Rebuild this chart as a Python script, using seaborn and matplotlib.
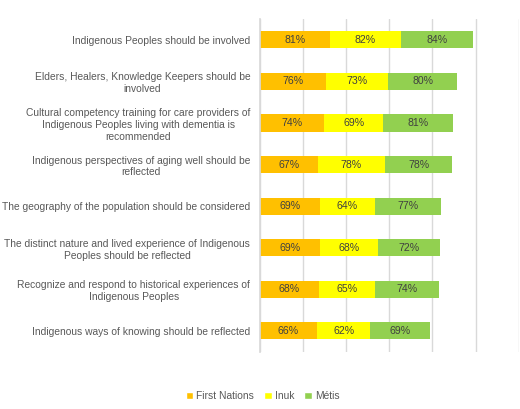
import pandas as pd
import numpy as np
import matplotlib.pyplot as plt
import seaborn as sns
from matplotlib.patches import Patch

sns.set_theme(style='white')
plt.rcParams['font.family'] = ['Liberation Sans', 'DejaVu Sans']

categories = [
    'Indigenous Peoples should be involved',
    'Elders, Healers, Knowledge Keepers should be\ninvolved',
    'Cultural competency training for care providers of\nIndigenous Peoples living with dementia is\nrecommended',
    'Indigenous perspectives of aging well should be\nreflected',
    'The geography of the population should be considered',
    'The distinct nature and lived experience of Indigenous\nPeoples should be reflected',
    'Recognize and respond to historical experiences of\nIndigenous Peoples',
    'Indigenous ways of knowing should be reflected',
]
first_nations = [81, 76, 74, 67, 69, 69, 68, 66]
inuk = [82, 73, 69, 78, 64, 68, 65, 62]
metis = [84, 80, 81, 78, 77, 72, 74, 69]

series = ['First Nations', 'Inuk', 'Métis']
colors = ['#FFC000', '#FFFF00', '#92D050']

df = pd.DataFrame({'category': categories, 'First Nations': first_nations,
                   'Inuk': inuk, 'Métis': metis})
df['cum1'] = df['First Nations']
df['cum2'] = df['cum1'] + df['Inuk']
df['cum3'] = df['cum2'] + df['Métis']

fig = plt.figure(figsize=(5.2, 4.09), dpi=100)
ax = fig.add_axes([0.5, 0.14, 0.4975, 0.8135])

# stacked bars: draw cumulative totals, largest first
for col, c in zip(['cum3', 'cum2', 'cum1'], colors[::-1]):
    sns.barplot(data=df, x=col, y='category', order=categories, orient='h',
                color=c, width=0.41, saturation=1, ax=ax, linewidth=0)

# percentage labels in each segment
starts = [np.zeros(len(df)), df['cum1'].values, df['cum2'].values]
for s, st in zip(series, starts):
    for i, (v, l) in enumerate(zip(df[s].values, st)):
        ax.text(l + v / 2, i, f'{v}%', ha='center', va='center',
                fontsize=7.6, color='#404040')

ax.set_xlim(0, 300)
ax.set_ylim(len(categories) - 0.5, -0.5)
ax.set_xticks(np.arange(0, 301, 50))
ax.set_xticklabels([])
ax.xaxis.grid(True, color='#D9D9D9', linewidth=1)
ax.set_axisbelow(True)
ax.tick_params(axis='x', length=0)
ax.set_xlabel('')
ax.set_ylabel('')

ax.set_yticks(np.arange(-0.5, len(categories), 1), minor=True)
ax.tick_params(axis='y', which='minor', length=3, color='#D9D9D9', width=1)
ax.tick_params(axis='y', which='major', length=0, pad=7, labelsize=7.4,
               labelcolor='#595959')
for t in ax.get_yticklabels():
    t.set_multialignment('center')
    t.set_linespacing(1.22)

for side in ['top', 'right', 'bottom']:
    ax.spines[side].set_visible(False)
ax.spines['left'].set_color('#D9D9D9')

handles = [Patch(facecolor=c, label=s) for s, c in zip(series, colors)]
fig.legend(handles=handles, loc='center', bbox_to_anchor=(0.505, 0.032), ncol=3,
           frameon=False, fontsize=7.4, handlelength=0.7, handleheight=0.7,
           handletextpad=0.3, columnspacing=1.0, labelcolor='#595959')

fig.savefig('out.png', dpi=100)
